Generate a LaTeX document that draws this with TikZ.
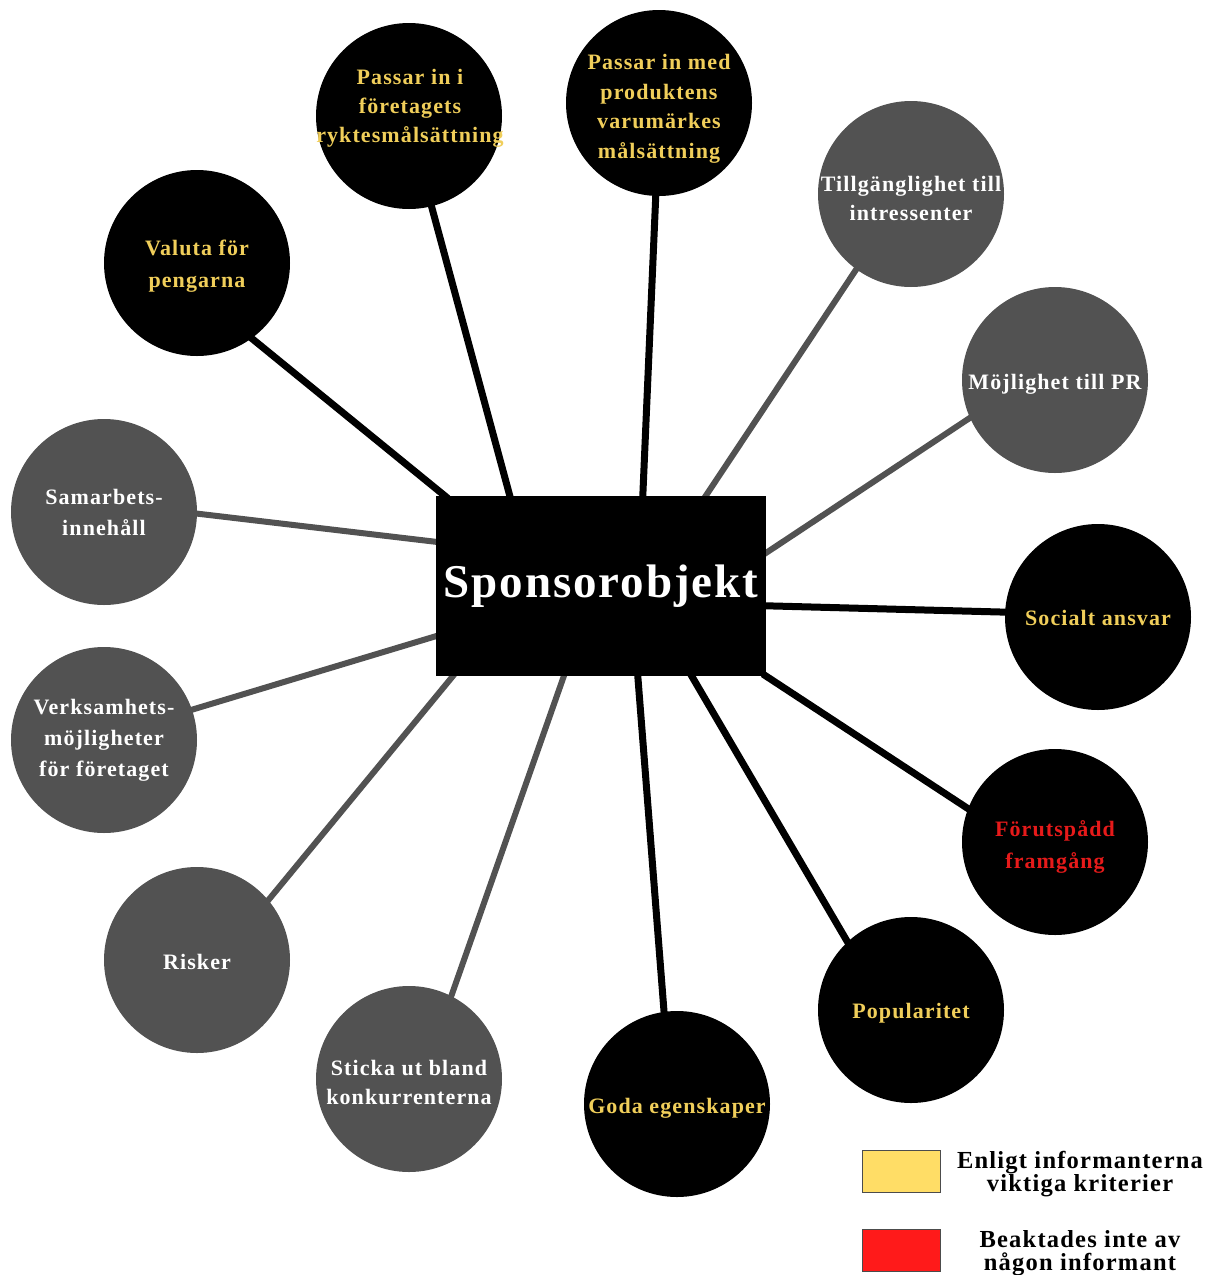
\documentclass[tikz,border=0pt]{standalone}
\usepackage{fontspec}
\setmainfont{Liberation Serif}
\newfontfamily\lblfont[LetterSpace=5]{Liberation Serif}
\newfontfamily\titlefont[LetterSpace=4]{Liberation Serif}
\newfontfamily\keyfont[LetterSpace=5]{Liberation Serif}
\usetikzlibrary{backgrounds}

\definecolor{critgray}{RGB}{82,82,82}
\definecolor{goldtext}{RGB}{240,206,90}
\definecolor{redtext}{RGB}{230,26,26}
\definecolor{legendgold}{RGB}{255,221,102}
\definecolor{legendred}{RGB}{255,26,26}

\tikzset{
  crit/.style={circle, minimum size=186pt, inner sep=0pt},
  keycrit/.style={crit, fill=black},
  othercrit/.style={crit, fill=critgray},
  lbl/.style={align=center, inner sep=0pt, font=\lblfont\fontsize{22}{29}\selectfont\bfseries},
  goldlbl/.style={lbl, text=goldtext},
  redlbl/.style={lbl, text=redtext},
  whitelbl/.style={lbl, text=white},
  strong/.style={line width=7pt, black, shorten <=-4pt, shorten >=-4pt},
  weak/.style={line width=6pt, critgray, shorten <=-4pt, shorten >=-4pt},
  legendbox/.style={draw=black!70, line width=0.8pt, minimum width=78pt, minimum height=42pt, inner sep=0pt},
  legendtext/.style={align=center, font=\keyfont\fontsize{24.5}{22.5}\selectfont\bfseries}
}

\begin{document}
\begin{tikzpicture}[x=1pt, y=-1pt]
\useasboundingbox (0,0) rectangle (1214,1275);

% central object
\node[fill=black, minimum width=330pt, minimum height=180pt, inner sep=0pt,
      text=white, font=\titlefont\fontsize{47}{50}\selectfont\bfseries] (box) at (601,586) {Sponsorobjekt};

% criteria around the object
\node[keycrit]   (c1)  at (197,263)  {};
\node[keycrit]   (c2)  at (409,116)  {};
\node[keycrit]   (c3)  at (659,103)  {};
\node[othercrit] (c4)  at (911,194)  {};
\node[othercrit] (c5)  at (1055,380) {};
\node[keycrit]   (c6)  at (1098,617) {};
\node[keycrit]   (c7)  at (1055,842) {};
\node[keycrit]   (c8)  at (911,1010) {};
\node[keycrit]   (c9)  at (677,1104) {};
\node[othercrit] (c10) at (409,1079) {};
\node[othercrit] (c11) at (197,960)  {};
\node[othercrit] (c12) at (104,740)  {};
\node[othercrit] (c13) at (104,512)  {};

% their labels
\node[goldlbl, font=\lblfont\fontsize{22}{32}\selectfont\bfseries] (t1) at (197,266) {Valuta för\\pengarna};
\node[goldlbl]  (t2)  at (410,108)  {Passar in i\\företagets\\ryktesmålsättning};
\node[goldlbl, font=\lblfont\fontsize{22}{29.5}\selectfont\bfseries] (t3) at (659,109) {Passar in med\\produktens\\varumärkes\\målsättning};
\node[whitelbl] (t4)  at (911,198)  {Tillgänglighet till\\intressenter};
\node[whitelbl] (t5)  at (1055,384) {Möjlighet till PR};
\node[goldlbl]  (t6)  at (1098,618) {Socialt ansvar};
\node[redlbl, font=\lblfont\fontsize{22}{32}\selectfont\bfseries] (t7) at (1055,847) {Förutspådd\\framgång};
\node[goldlbl]  (t8)  at (911,1013) {Popularitet};
\node[goldlbl]  (t9)  at (677,1108) {Goda egenskaper};
\node[whitelbl] (t10) at (409,1082) {Sticka ut bland\\konkurrenterna};
\node[whitelbl] (t11) at (197,962)  {Risker};
\node[whitelbl, font=\lblfont\fontsize{22}{31}\selectfont\bfseries] (t12) at (104,740) {Verksamhets-\\möjligheter\\för företaget};
\node[whitelbl, font=\lblfont\fontsize{22}{31}\selectfont\bfseries] (t13) at (104,512) {Samarbets-\\innehåll};

% spokes
\begin{scope}[on background layer]
\draw[strong] (c1.-54)   -- ([xshift=9pt]box.north west);
\draw[strong] (c2.-76)   -- ([xshift=74pt]box.north west);
\draw[strong] (c3.-92)   -- ([xshift=207pt]box.north west);
\draw[weak]   (c4.-126)  -- ([xshift=270pt]box.north west);
\draw[weak]   (c5.-156)  -- ([yshift=-57pt]box.north east);
\draw[strong] (c6.177)   -- ([yshift=-110pt]box.north east);
\draw[strong] (c7.159)   -- (box.south east);
\draw[strong] (c8.133)   -- ([xshift=256pt]box.south west);
\draw[strong] (c9.98)    -- ([xshift=202pt]box.south west);
\draw[weak]   (c10.63)   -- ([xshift=128pt]box.south west);
\draw[weak]   (c11.40)   -- ([xshift=17pt]box.south west);
\draw[weak]   (c12.19)   -- ([yshift=40pt]box.south west);
\draw[weak]   (c13.-1)   -- ([yshift=-46pt]box.north west);
\end{scope}

% legend
\node[legendbox, fill=legendgold] (k1) at (901,1171) {};
\node[legendtext] (k1t) at (1080,1174) {Enligt informanterna\\viktiga kriterier};
\node[legendbox, fill=legendred] (k2) at (901,1250) {};
\node[legendtext] (k2t) at (1080,1253) {Beaktades inte av\\någon informant};
\end{tikzpicture}
\end{document}
